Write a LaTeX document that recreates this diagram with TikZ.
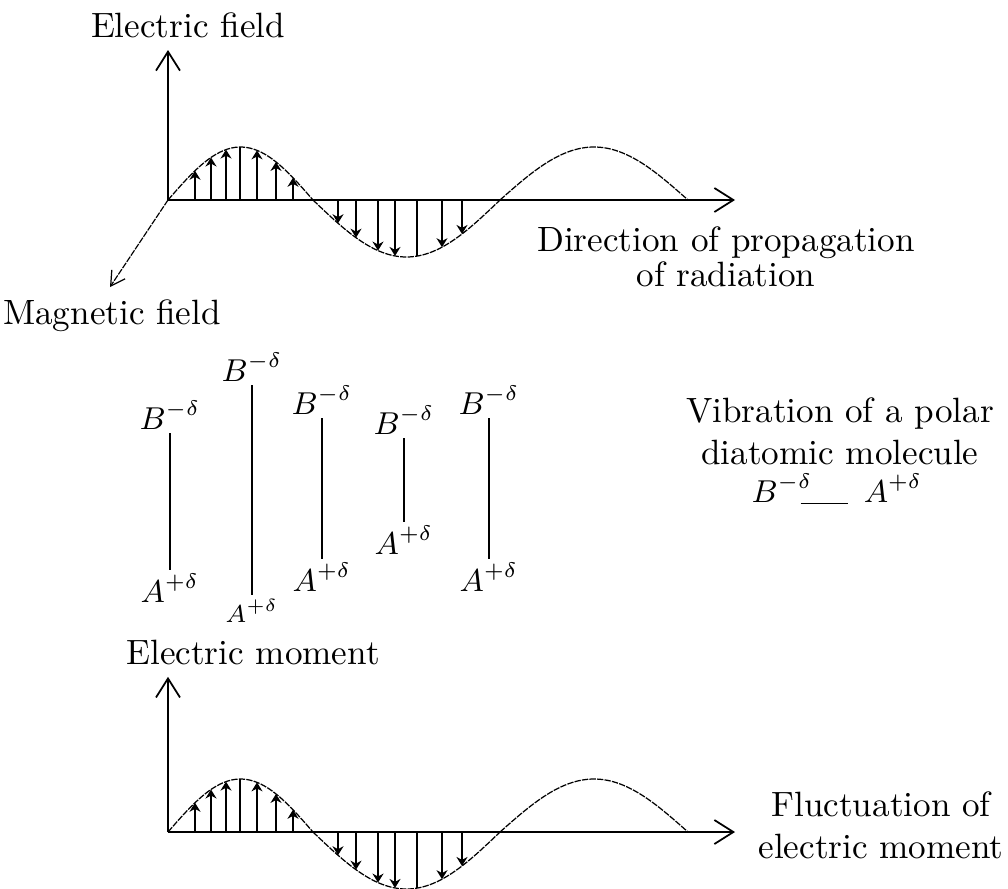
\documentclass[tikz,border=0pt]{standalone}
\usepackage{amsmath,amssymb}
\usetikzlibrary{arrows.meta}

\begin{document}
\begin{tikzpicture}[>=stealth,
  axis/.style={line width=0.5pt,-{Straight Barb[length=1.9mm,width=2.4mm]}},
  vec/.style={line width=0.45pt,-{Stealth[length=0.9mm,width=1.1mm]}},
  wavecurve/.style={line width=0.35pt,dash pattern=on 1.8pt off 0.35pt},
  chg/.style={inner sep=1pt,font=\small}]
  \useasboundingbox (0,0) rectangle (10.08,8.88);
  % axis labels
  \node (ylabt) at (1.88,8.63) {Electric field};
  \node (ylabb) at (2.53,2.36) {Electric moment};
  \node (mfield) at (1.12,5.72) {Magnetic field};
  \node[align=center] (prop) at (7.26,6.31) {Direction of propagation\\[-2pt]of radiation};
  \node[align=center] (fluct) at (8.81,0.63) {Fluctuation of\\electric moment};
  % the two waves: field (top), moment (bottom)
  \foreach \oy/\s in {6.88/t,0.56/b} {
    \coordinate (o\s) at (1.68,\oy);
    \coordinate (x\s) at (7.35,\oy);
    \draw[axis] (o\s) -- (x\s);
    \draw[axis] (o\s) -- (o\s |- ylab\s.south);
    \draw[wavecurve,domain=1.68:3.13,samples=40,smooth] plot (\x,{\oy+0.53*sin(180*(\x-1.68)/1.45)});
    \draw[wavecurve,domain=3.13:5.00,samples=40,smooth] plot (\x,{\oy-0.57*sin(180*(\x-3.13)/1.87)});
    \draw[wavecurve,domain=5.00:6.88,samples=40,smooth] plot (\x,{\oy+0.53*sin(180*(\x-5.00)/1.88)});
    \foreach \x in {1.95,2.11,2.26,2.57,2.76,2.93}
      \draw[vec] (\x,\oy) -- (\x,{\oy+0.53*sin(180*(\x-1.68)/1.45)});
    \draw[line width=0.45pt] (2.40,\oy) -- (2.40,{\oy+0.53*sin(180*(2.40-1.68)/1.45)});
    \foreach \x in {3.38,3.56,3.78,3.95,4.42,4.62}
      \draw[vec] (\x,\oy) -- (\x,{\oy-0.57*sin(180*(\x-3.13)/1.87)});
    \draw[line width=0.45pt] (4.17,\oy) -- (4.17,{\oy-0.57*sin(180*(4.17-3.13)/1.87)});
  }
  % magnetic field axis
  \coordinate (mz) at (1.10,6.01);
  \draw[wavecurve,-{Straight Barb[length=1.4mm,width=1.6mm]}] (ot) -- (mz);
  % vibrating dipoles
  \foreach \i/\x/\yb/\ya/\fsz in {1/1.70/4.73/3.00/\small,2/2.52/5.21/2.77/\scriptsize,
      3/3.22/4.88/3.11/\small,4/4.04/4.68/3.48/\small,5/4.89/4.88/3.11/\small} {
    \node[chg] (b\i) at (\x,\yb) {$B^{-\delta}$};
    \node[chg,font=\fsz] (a\i) at (\x,\ya) {$A^{+\delta}$};
    \draw[line width=0.45pt] (b\i) -- (a\i);
  }
  \node[align=center] (vib) at (8.40,4.57) {Vibration of a polar\\diatomic molecule};
  \node[chg] (mb) at (7.82,4.00) {$B^{-\delta}$};
  \node[chg] (ma) at (8.93,4.00) {$A^{+\delta}$};
  \draw ([xshift=-0.16cm,yshift=-0.4pt]mb.base east) -- ([xshift=-0.12cm,yshift=-0.4pt]ma.base west);
\end{tikzpicture}
\end{document}
